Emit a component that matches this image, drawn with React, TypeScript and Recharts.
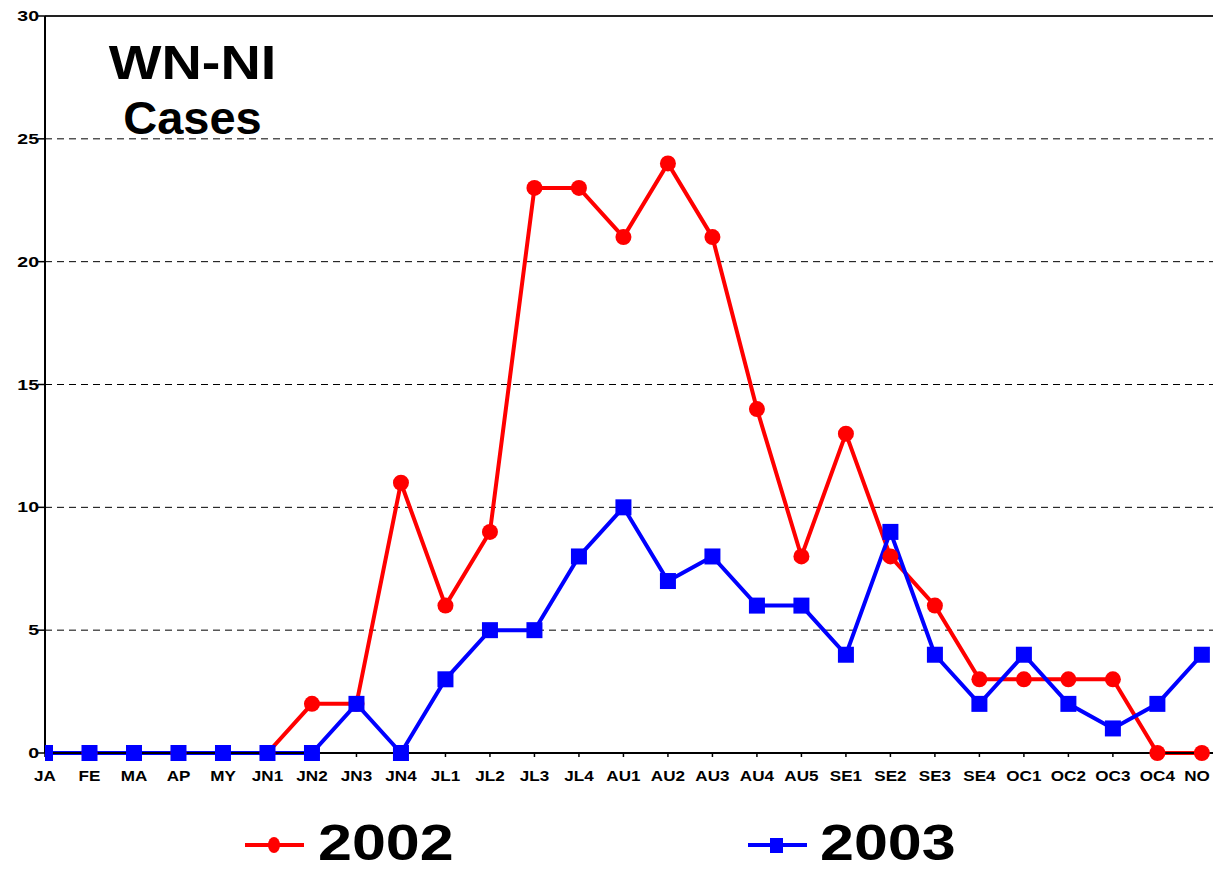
import { CartesianGrid, Legend, Line, LineChart, ReferenceLine, XAxis, YAxis } from "recharts";

const periods = [
  "JA", "FE", "MA", "AP", "MY", "JN1", "JN2", "JN3", "JN4", "JL1", "JL2", "JL3", "JL4",
  "AU1", "AU2", "AU3", "AU4", "AU5", "SE1", "SE2", "SE3", "SE4", "OC1", "OC2", "OC3", "OC4", "NO",
];
const cases2002 = [0, 0, 0, 0, 0, 0, 2, 2, 11, 6, 9, 23, 23, 21, 24, 21, 14, 8, 13, 8, 6, 3, 3, 3, 3, 0, 0];
const cases2003 = [0, 0, 0, 0, 0, 0, 0, 2, 0, 3, 5, 5, 8, 10, 7, 8, 6, 6, 4, 9, 4, 2, 4, 2, 1, 2, 4];
const yTicks = [0, 5, 10, 15, 20, 25, 30];

const RED = "#FF0000";
const BLUE = "#0000FF";
const FONT = "'Liberation Sans', Arial, sans-serif";
const W = 1213;

const chartData = periods.map((p, i) => ({
  idx: i,
  period: p,
  y2002: cases2002[i],
  y2003: cases2003[i],
}));

// square markers for 2003
function SquareDot(props: any) {
  const { cx, cy } = props;
  if (cx == null || cy == null) return null;
  return <rect x={cx - 8} y={cy - 8} width={16} height={16} fill={BLUE} />;
}

// the original is a bit stretched sideways, so the labels get a scaleX
function XTick(props: any) {
  const { x, y, payload } = props;
  const label = periods[payload.value] ?? "";
  // keep the last label inside the picture
  const tx = Math.min(x, W - 16);
  return (
    <g transform={`translate(${tx},${y + 22}) scale(1.22,1)`}>
      <text textAnchor="middle" fontFamily={FONT} fontWeight="bold" fontSize={14} fill="#000">
        {label}
      </text>
    </g>
  );
}

function YTick(props: any) {
  const { x, y, payload } = props;
  return (
    <g transform={`translate(${x + 3},${y + 5}) scale(1.3,1)`}>
      <text textAnchor="end" fontFamily={FONT} fontWeight="bold" fontSize={15} fill="#000">
        {payload.value}
      </text>
    </g>
  );
}

function LegendContent() {
  return (
    <svg width={W} height={88} style={{ display: "block" }}>
      <line x1={245} y1={62} x2={304} y2={62} stroke={RED} strokeWidth={4} />
      <ellipse cx={274} cy={62} rx={6} ry={8} fill={RED} />
      <g transform="translate(318,77) scale(1.22,1)">
        <text fontFamily={FONT} fontWeight="bold" fontSize={50} fill="#000">
          2002
        </text>
      </g>
      <line x1={748} y1={62} x2={807} y2={62} stroke={BLUE} strokeWidth={4} />
      <rect x={770} y={55} width={13} height={15} fill={BLUE} />
      <g transform="translate(820,77) scale(1.22,1)">
        <text fontFamily={FONT} fontWeight="bold" fontSize={50} fill="#000">
          2003
        </text>
      </g>
    </svg>
  );
}

export default function App() {
  return (
    <div style={{ position: "absolute", left: 0, top: 0, width: W, height: 871, background: "#fff", overflow: "hidden" }}>
      <LineChart
        width={W}
        height={871}
        data={chartData}
        margin={{ top: 16, right: 0, left: 0, bottom: 0 }}
      >
        <CartesianGrid vertical={false} stroke="#000" strokeDasharray="7 5" strokeWidth={1} />
        <XAxis
          dataKey="idx"
          type="number"
          domain={[0, 26.25]}
          ticks={periods.map((_, i) => i)}
          interval={0}
          allowDataOverflow
          height={30}
          tickSize={4}
          axisLine={{ stroke: "#000", strokeWidth: 2 }}
          tickLine={{ stroke: "#000", strokeWidth: 1.5 }}
          tick={<XTick />}
        />
        <YAxis
          domain={[0, 30]}
          ticks={yTicks}
          width={45}
          tickSize={7}
          axisLine={{ stroke: "#000", strokeWidth: 2 }}
          tickLine={{ stroke: "#000", strokeWidth: 1.5 }}
          tick={<YTick />}
        />
        <ReferenceLine y={30} stroke="#222" strokeWidth={2} />
        <Legend verticalAlign="bottom" height={88} wrapperStyle={{ left: 0, width: W }} content={<LegendContent />} />
        <Line
          dataKey="y2002"
          name="2002"
          stroke={RED}
          strokeWidth={4}
          dot={{ r: 8, fill: RED, stroke: RED, strokeWidth: 0 }}
          isAnimationActive={false}
        />
        <Line
          dataKey="y2003"
          name="2003"
          stroke={BLUE}
          strokeWidth={4}
          dot={<SquareDot />}
          isAnimationActive={false}
        />
      </LineChart>
      <div
        style={{
          position: "absolute",
          left: 90,
          top: 34,
          width: 205,
          textAlign: "center",
          fontFamily: FONT,
          fontWeight: "bold",
          color: "#000",
          lineHeight: "56px",
        }}
      >
        <div style={{ fontSize: 49, transform: "scaleX(1.14)" }}>WN-NI</div>
        <div style={{ fontSize: 47 }}>Cases</div>
      </div>
    </div>
  );
}
